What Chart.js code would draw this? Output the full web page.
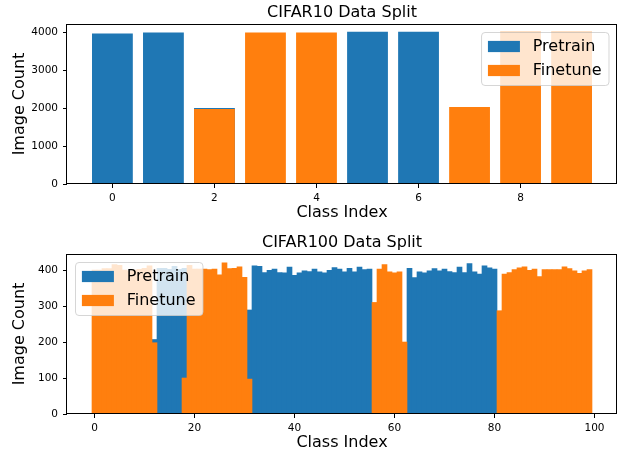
<!DOCTYPE html>
<html>
<head>
<meta charset="utf-8">
<title>CIFAR data split</title>
<script src="https://cdn.jsdelivr.net/npm/chart.js@4.4.0/dist/chart.umd.min.js"></script>
<style>
  html, body { margin: 0; padding: 0; background: #fff; }
  canvas { display: block; }
</style>
</head>
<body>
<canvas id="cifar10-chart" width="619" height="227"></canvas>
<canvas id="cifar100-chart" width="619" height="227"></canvas>
<script>
const FONT = '"DejaVu Sans", sans-serif';

// CIFAR10 panel
const cifar10Classes = [0, 1, 2, 3, 4, 5, 6, 7, 8, 9];
const cifar10Pretrain = [3970, 3995, 2005, 0, 0, 4018, 4018, 0, 0, 0];
const cifar10Finetune = [0, 0, 1980, 3995, 3995, 0, 0, 2032, 4018, 4018];
const cifar10XTicks = [0, 2, 4, 6, 8];
const cifar10YTicks = [0, 1000, 2000, 3000, 4000];

// CIFAR100 panel
const cifar100Classes = [
  0, 1, 2, 3, 4, 5, 6, 7, 8, 9, 10, 11, 12, 13, 14, 15, 16, 17, 18, 19,
  20, 21, 22, 23, 24, 25, 26, 27, 28, 29, 30, 31, 32, 33, 34, 35, 36, 37, 38, 39,
  40, 41, 42, 43, 44, 45, 46, 47, 48, 49, 50, 51, 52, 53, 54, 55, 56, 57, 58, 59,
  60, 61, 62, 63, 64, 65, 66, 67, 68, 69, 70, 71, 72, 73, 74, 75, 76, 77, 78, 79,
  80, 81, 82, 83, 84, 85, 86, 87, 88, 89, 90, 91, 92, 93, 94, 95, 96, 97, 98, 99
];
const cifar100Pretrain = [
  0, 0, 0, 0, 0, 0, 0, 0, 0, 0, 0, 0, 207, 405, 405, 402, 410, 402, 405, 0,
  0, 0, 0, 0, 0, 0, 0, 0, 0, 0, 0, 289, 412, 410, 393, 399, 403, 393, 392, 408,
  385, 392, 398, 396, 403, 395, 392, 399, 407, 403, 395, 405, 395, 408, 401, 403, 0, 0, 0, 0,
  0, 0, 0, 405, 379, 395, 392, 398, 404, 398, 403, 396, 393, 408, 393, 418, 395, 389, 412, 406,
  403, 0, 0, 0, 0, 0, 0, 0, 0, 0, 0, 0, 0, 0, 0, 0, 0, 0, 0, 0
];
const cifar100Finetune = [
  400, 400, 404, 404, 415, 413, 400, 398, 400, 402, 405, 412, 198, 0, 0, 0, 0, 0, 100, 413,
  403, 403, 403, 401, 403, 387, 420, 404, 405, 409, 380, 97, 0, 0, 0, 0, 0, 0, 0, 0,
  0, 0, 0, 0, 0, 0, 0, 0, 0, 0, 0, 0, 0, 0, 0, 0, 310, 403, 415, 395,
  392, 395, 200, 0, 0, 0, 0, 0, 0, 0, 0, 0, 0, 0, 0, 0, 0, 0, 0, 0,
  0, 287, 389, 393, 401, 406, 409, 399, 403, 382, 401, 401, 401, 401, 409, 404, 398, 391, 398, 401
];
const cifar100XTicks = [0, 20, 40, 60, 80, 100];
const cifar100YTicks = [0, 100, 200, 300, 400];

// matplotlib-like box around the axes plus a translucent legend inside it
const frameAndLegend = {
  id: 'frameAndLegend',
  afterDraw(chart, args, opts) {
    const ctx = chart.ctx;
    const a = chart.chartArea;
    ctx.save();
    const L = Math.round(a.left), T = Math.round(a.top);
    const R = Math.round(a.right), B = Math.round(a.bottom);
    ctx.strokeStyle = '#000';
    ctx.lineWidth = 1;
    ctx.strokeRect(L - 0.5, T + 0.5, R - L, B - T - 1);

    const fs = 16;
    ctx.font = fs + 'px ' + FONT;
    const sets = chart.data.datasets;
    const textW = Math.max(...sets.map(d => ctx.measureText(d.label).width));
    const pad = 0.4 * fs, handleW = 2 * fs, handleH = 0.7 * fs, gap = 0.8 * fs;
    const w = pad + handleW + gap + textW + pad + 1;
    const h = 53;
    const x0 = opts.corner === 'right' ? a.right - 8 - w : a.left + 8.5;
    const y0 = a.top + 8.5;
    ctx.beginPath();
    ctx.roundRect(x0, y0, w, h, 3.5);
    ctx.fillStyle = 'rgba(255,255,255,0.8)';
    ctx.fill();
    ctx.strokeStyle = 'rgba(204,204,204,0.8)';
    ctx.stroke();
    ctx.textBaseline = 'middle';
    ctx.textAlign = 'left';
    sets.forEach((d, i) => {
      const cy = y0 + 14 + i * 24;
      ctx.fillStyle = d.backgroundColor;
      ctx.fillRect(x0 + pad, cy - handleH / 2, handleW, handleH);
      ctx.fillStyle = '#000';
      ctx.fillText(d.label, x0 + pad + handleW + gap, cy);
    });
    ctx.restore();
  }
};

function makeSplitChart(id, p) {
  const barOpts = { grouped: false, categoryPercentage: 1, barPercentage: p.barPct };
  return new Chart(document.getElementById(id), {
    type: 'bar',
    data: {
      labels: p.classes,
      datasets: [
        Object.assign({ label: 'Pretrain', data: p.pretrain, backgroundColor: '#1f77b4', order: 2 }, barOpts),
        Object.assign({ label: 'Finetune', data: p.finetune, backgroundColor: '#ff7f0e', order: 1 }, barOpts)
      ]
    },
    options: {
      responsive: false,
      animation: false,
      layout: { padding: { left: 0, right: 2, top: 0, bottom: 0 } },
      plugins: {
        legend: { display: false },
        tooltip: { enabled: false },
        title: {
          display: true,
          text: p.title,
          fullSize: false,
          color: '#000',
          font: { family: FONT, size: 16, weight: 'normal' },
          padding: { top: p.titleTop, bottom: 1.5 }
        },
        frameAndLegend: { corner: p.legendCorner }
      },
      scales: {
        x: {
          type: 'linear',
          bounds: 'data',
          offset: false,
          min: p.xMin,
          max: p.xMax,
          afterBuildTicks: s => { s.ticks = p.xTicks.map(v => ({ value: v })); },
          afterFit: s => { s.height = p.xAxisH; },
          grid: { display: true, offset: false, drawOnChartArea: false, drawTicks: true, tickLength: 4, tickColor: '#000', tickWidth: 1 },
          border: { display: false },
          ticks: {
            color: '#000', font: { family: FONT, size: 10.5 }, padding: 4,
            maxRotation: 0, autoSkip: false, callback: v => String(v)
          },
          title: {
            display: true, text: 'Class Index', color: '#000',
            font: { family: FONT, size: 16 }, padding: { top: 0, bottom: p.xTitleBottom }
          }
        },
        y: {
          type: 'linear',
          bounds: 'data',
          min: 0,
          max: p.yMax,
          afterBuildTicks: s => { s.ticks = p.yTicks.map(v => ({ value: v })); },
          afterFit: s => { s.width = 67; },
          grid: { display: true, drawOnChartArea: false, drawTicks: true, tickLength: 4, tickColor: '#000', tickWidth: 1 },
          border: { display: false },
          ticks: {
            color: '#000', font: { family: FONT, size: 10.5 }, padding: 5,
            autoSkip: false, callback: v => String(v)
          },
          title: {
            display: true, text: 'Image Count', color: '#000',
            font: { family: FONT, size: 16 }, padding: { top: 10.5, bottom: 0 }
          }
        }
      }
    },
    plugins: [frameAndLegend]
  });
}

makeSplitChart('cifar10-chart', {
  title: 'CIFAR10 Data Split',
  classes: cifar10Classes,
  pretrain: cifar10Pretrain,
  finetune: cifar10Finetune,
  xTicks: cifar10XTicks,
  yTicks: cifar10YTicks,
  xMin: -0.89, xMax: 9.89, yMax: 4221,
  barPct: 0.8,
  titleTop: 3.3,
  xAxisH: 43,
  xTitleBottom: 4.5,
  legendCorner: 'right'
});

makeSplitChart('cifar100-chart', {
  title: 'CIFAR100 Data Split',
  classes: cifar100Classes,
  pretrain: cifar100Pretrain,
  finetune: cifar100Finetune,
  xTicks: cifar100XTicks,
  yTicks: cifar100YTicks,
  xMin: -5.5, xMax: 104.5, yMax: 444.6,
  barPct: 1,
  titleTop: 6.3,
  xAxisH: 40,
  xTitleBottom: 1.5,
  legendCorner: 'left'
});
</script>
</body>
</html>
